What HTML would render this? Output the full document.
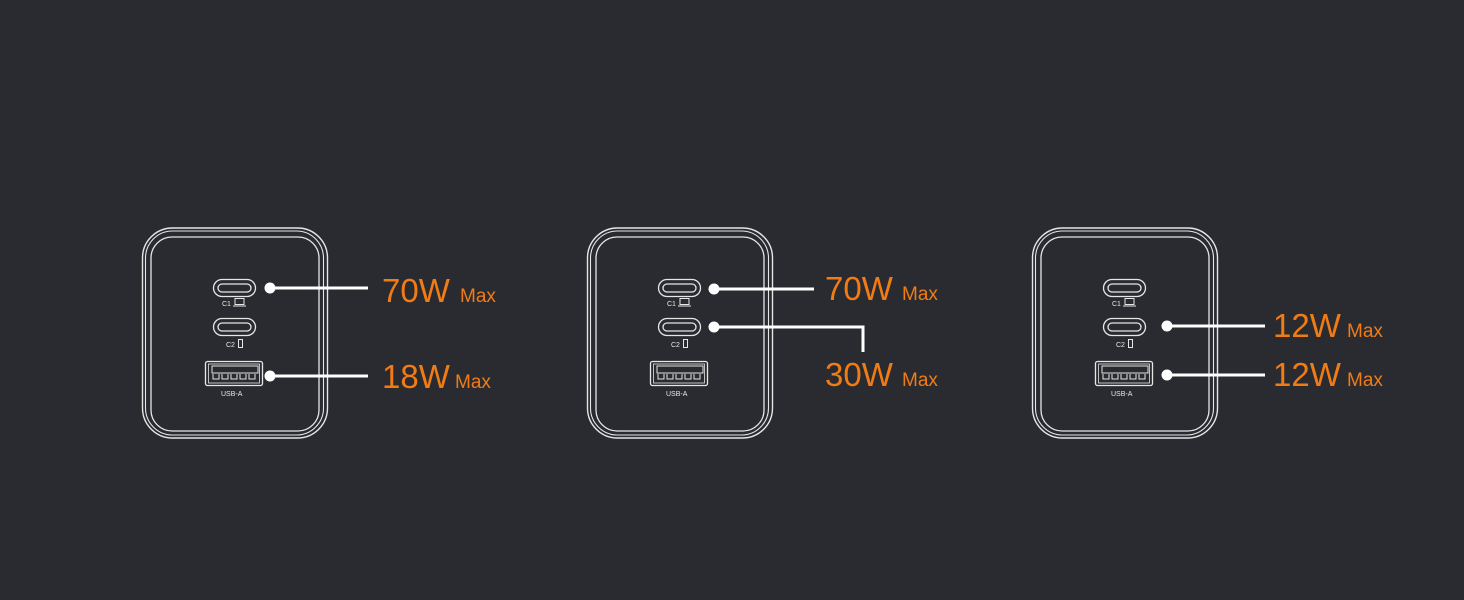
<!DOCTYPE html>
<html><head><meta charset="utf-8"><style>
html,body{margin:0;padding:0;background:#2a2b30;}
svg{display:block}
.o{font-family:"Liberation Sans",sans-serif;fill:#f27c14}
</style></head><body>
<svg width="1464" height="600" viewBox="0 0 1464 600">
<rect width="1464" height="600" fill="#2a2b30"/>
<g id="p1" fill="none" stroke="#e6e6e6">
<rect x="142.5" y="228" width="185" height="210" rx="30" stroke-width="1.4"/>
<rect x="145.5" y="231" width="178" height="204" rx="27" stroke-width="1.1"/>
<rect x="151" y="237" width="168" height="194" rx="21" stroke-width="1.3"/>
<rect x="213.5" y="279.5" width="42" height="17" rx="8.5" stroke-width="1.3"/>
<rect x="218" y="284" width="33" height="8" rx="4" stroke-width="1.3"/>
<rect x="213.5" y="318.5" width="42" height="17" rx="8.5" stroke-width="1.3"/>
<rect x="218" y="323" width="33" height="8" rx="4" stroke-width="1.3"/>
<rect x="235" y="298.5" width="9" height="6" stroke-width="1"/>
<line x1="233" y1="306" x2="246" y2="306" stroke-width="1"/>
<rect x="238.5" y="339.5" width="4" height="8" stroke-width="1"/>
<rect x="205.5" y="361.5" width="57" height="24" rx="2" stroke-width="1.3"/>
<rect x="208.5" y="364" width="51" height="19" stroke-width="0.8"/>
<rect x="212" y="366" width="46" height="7" stroke-width="1"/>
<path d="M213 374v5h6v-5M222 374v5h6v-5M231 374v5h6v-5M240 374v5h6v-5M249 374v5h6v-5" stroke-width="1"/>
</g>
<use href="#p1" x="445"/>
<use href="#p1" x="890"/>
<g fill="#e8e8e8" font-family="Liberation Sans, sans-serif" font-size="7">
<text x="222" y="306">C1</text><text x="226" y="347">C2</text><text x="221" y="396">USB-A</text>
<text x="667" y="306">C1</text><text x="671" y="347">C2</text><text x="666" y="396">USB-A</text>
<text x="1112" y="306">C1</text><text x="1116" y="347">C2</text><text x="1111" y="396">USB-A</text>
</g>
<g fill="#fff" stroke="#fff" stroke-width="3">
<circle cx="270" cy="288" r="5.5" stroke="none"/><line x1="270" y1="288" x2="368" y2="288"/>
<circle cx="270" cy="376" r="5.5" stroke="none"/><line x1="270" y1="376" x2="368" y2="376"/>
<circle cx="714" cy="289" r="5.5" stroke="none"/><line x1="714" y1="289" x2="814" y2="289"/>
<circle cx="714" cy="327" r="5.5" stroke="none"/><polyline fill="none" points="714,327 863,327 863,352"/>
<circle cx="1167" cy="326" r="5.5" stroke="none"/><line x1="1167" y1="326" x2="1265" y2="326"/>
<circle cx="1167" cy="375" r="5.5" stroke="none"/><line x1="1167" y1="375" x2="1265" y2="375"/>
</g>
<g class="o">
<text x="382" y="302" font-size="33">70W</text><text x="460" y="302" font-size="19">Max</text>
<text x="382" y="388" font-size="33">18W</text><text x="455" y="388" font-size="19">Max</text>
<text x="825" y="300" font-size="33">70W</text><text x="902" y="300" font-size="19">Max</text>
<text x="825" y="386" font-size="33">30W</text><text x="902" y="386" font-size="19">Max</text>
<text x="1273" y="337" font-size="33">12W</text><text x="1347" y="337" font-size="19">Max</text>
<text x="1273" y="386" font-size="33">12W</text><text x="1347" y="386" font-size="19">Max</text>
</g>
</svg>
</body></html>
